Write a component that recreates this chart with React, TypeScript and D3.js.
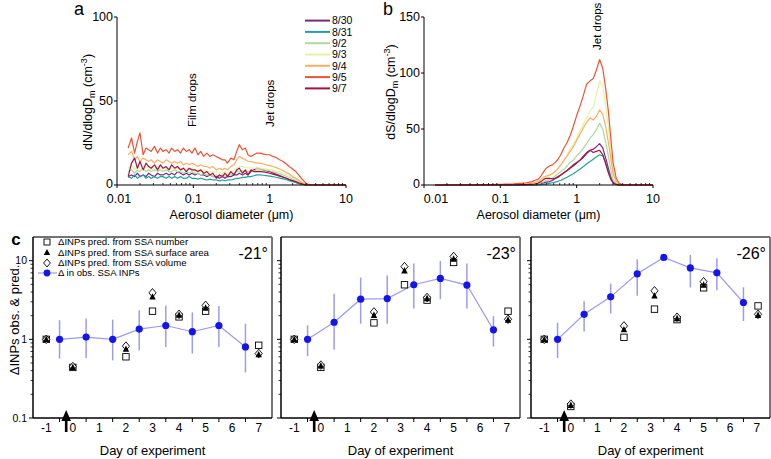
import React from 'react';
import * as d3 from 'd3';

const FONT = '"Liberation Sans", Arial, Helvetica, sans-serif';

// ---------- Panel a / b : size distributions ----------
const diam = [0.014,0.0155,0.017,0.0185,0.02,0.022,0.024,0.026,0.028,0.031,0.034,0.037,0.04,0.044,0.048,0.052,0.057,0.062,0.068,0.074,0.081,0.088,0.096,0.105,0.115,0.125,0.137,0.15,0.165,0.18,0.2,0.22,0.24,0.26,0.28,0.31,0.34,0.37,0.4,0.44,0.48,0.52,0.57,0.62,0.68,0.75,0.82,0.9,1.0,1.1,1.2,1.35,1.5,1.65,1.8,2.0,2.2,2.4,2.6,2.8,3.0,3.3,3.6,4.0,4.5,5,6,7,8,10];

const nA_0830 = [5,6,5,7,5,6,5,7,6,5,7,6,6,7,6,7,6,8,7,6,7,6,7,6,7,6,6,5,6,5,5,4,5,4,5,5,6,6,7,6,7,6,8,9,10,9.5,9,8.5,8,7.2,6.5,5.6,4.8,4,3.2,2.4,1.6,1,0.5,0.2,0,0,0,0,0,0,0,0,0,0];
const nA_0831 = [5,4,6,4,5,6,4,5,4,5,4,5,5,4,5,4,5,4,5,4,4,5,4,4,3.5,4,3.5,3,3.5,3,3,2.5,3,2.5,3,3,3.5,4,4,4.5,4.5,5,5,5.5,6,6,5.8,5.6,5.3,5,4.6,4.1,3.6,3.1,2.6,2,1.5,1,0.6,0.3,0.1,0,0,0,0,0,0,0,0,0];
const nA_0902 = [8,9,7,9,8,10,8,9,8,9,8,9,8,9,8,8,9,8,8,7,8,7,8,7,7,6,7,6,6,5,6,5,6,5,6,6,7,8,8,8.5,8,8,8.5,8.5,8.8,9,9,8.8,8.5,8,7.5,6.8,6,5.2,4.5,3.6,2.8,2,1.2,0.5,0.2,0,0,0,0,0,0,0,0,0];
const nA_0903 = [10,12,9,11,10,9,11,10,9,10,11,9,10,10,9,10,9,10,9,10,9,9,10,8,9,8,9,8,8,7,8,7,7,8,7,8,9,10,11,11,10.5,10,10,10,10,10,9.8,9.5,9.2,9,8.5,8,7,6.2,5.5,4.5,3.5,2.5,1.5,0.7,0.2,0,0,0,0,0,0,0,0,0];
const nA_0904 = [18,20,15,17,14,16,15,14,15,13,15,14,13,15,14,13,14,13,14,12,13,12,13,12,11,12,11,11,10,11,9,10,9,10,9,11,12,15,17,16,15,14,14,13.5,13,13,12.5,12,11.5,11,10.5,9.5,8.5,7.5,6.5,5,4,3,1.8,0.8,0.3,0,0,0,0,0,0,0,0,0];
const nA_0905 = [22,28,19,26,31,18,22,21,20,23,19,22,20,21,19,22,20,21,19,22,20,21,19,22,18,20,17,19,17,18,17,16,15,15,13,16,15,20,24,21,22,18,17,18,19,19,18.5,18,18,17,16.5,15,14,12.5,11,9.5,8,6,4,2.5,1,0.3,0,0,0,0,0,0,0,0];
const nA_0907 = [5,13,16,10,14,9,13,11,10,12,9,12,10,11,9,12,10,11,9,10,8,10,9,9,8,9,7,8,6,7,4,6,5,7,5,8,6,9,10,7,9,6,9,8,8,8,7.8,7.5,7,6.5,6,5.3,4.6,4,3.3,2.6,2,1.3,0.8,0.3,0.1,0,0,0,0,0,0,0,0,0];

const sB_0830 = [0,0,0,0,0,0,0,0,0,0,0,0,0,0,0,0,0,0,0,0,0,0,0,0.1,0.1,0.1,0.1,0.2,0.2,0.2,0.3,0.3,0.3,0.4,0.4,0.5,1,2,2.5,3,4,5.5,7,9,11,13,15.5,18,20,22,24,28,31,32,34,37,33,24,15,7,2.5,0.7,0.1,0,0,0,0,0,0,0];
const sB_0831 = [0,0,0,0,0,0,0,0,0,0,0,0,0,0,0,0,0,0,0,0,0,0,0,0,0,0,0,0,0.1,0.1,0.1,0.1,0.1,0.1,0.1,0.2,0.4,0.7,1,1.5,2,2.5,3.3,4.3,5.5,7,8.5,10,12,14,16,19,21,23,25,27,26,20,12,6,2,0.5,0.1,0,0,0,0,0,0,0];
const sB_0902 = [0,0,0,0,0,0,0,0,0,0,0,0,0,0,0,0,0,0,0,0,0,0,0.1,0.1,0.1,0.2,0.2,0.2,0.3,0.3,0.4,0.5,0.6,0.7,0.8,1,2,3,4,5,6,8,10,12,14,17,20,22,26,29,32,37,42,45,49,55,50,38,26,14,5,1.5,0.3,0,0,0,0,0,0,0];
const sB_0903 = [0,0,0,0,0,0,0,0,0,0,0,0,0,0,0,0,0,0,0,0,0,0.1,0.1,0.2,0.2,0.3,0.3,0.4,0.5,0.6,0.7,0.8,1,1.2,1.5,2,3,5,7,8,10,12,15,18,22,27,32,36,42,48,53,60,66,70,80,93,88,70,52,30,12,4,1,0.1,0,0,0,0,0,0];
const sB_0904 = [0,0,0,0,0,0,0,0,0,0,0,0,0,0,0,0,0,0,0,0,0,0.1,0.1,0.2,0.2,0.3,0.3,0.4,0.5,0.6,0.8,1,1.2,1.6,2.2,3,5,7,8,9,10,12,15,18,22,26,30,34,40,45,50,56,60,58,61,67,63,52,38,24,10,3,0.8,0.1,0,0,0,0,0,0];
const sB_0905 = [0,0,0,0,0,0,0,0,0,0,0.1,0.1,0.1,0.2,0.2,0.2,0.3,0.3,0.3,0.4,0.4,0.5,0.5,0.6,0.7,0.8,0.9,1,1.2,1.4,1.7,2,2.5,3,4,5,8,12,15,17,18,20,23,27,33,38,44,52,62,70,78,90,93,95,102,112,104,86,66,42,20,6,1.5,0.2,0,0,0,0,0,0];
const sB_0907 = [0,0,0,0,0,0,0,0,0,0,0,0,0,0,0,0,0,0,0,0,0,0,0,0.1,0.1,0.1,0.2,0.2,0.2,0.3,0.3,0.4,0.5,0.6,0.9,1.5,3,5,6,6,5.5,6,7.5,9,11,13,15,17,19.5,22,25,29,31,29,30,31,27,19,11,5,1.8,0.5,0.1,0,0,0,0,0,0,0];

const sizeLabels = ['8/30','8/31','9/2','9/3','9/4','9/5','9/7'];
const sizeColors = ['#762a86','#21a0a3','#a9dba0','#e4f3a0','#fdae61','#ef5232','#a8123f'];
const nASeries = [nA_0830, nA_0831, nA_0902, nA_0903, nA_0904, nA_0905, nA_0907];
const sBSeries = [sB_0830, sB_0831, sB_0902, sB_0903, sB_0904, sB_0905, sB_0907];

const xTickVals = [0.01, 0.1, 1, 10];
const xTickLabels = ['0.01', '0.1', '1', '10'];
const yTicksA = [0, 50, 100];
const yTicksB = [0, 50, 100, 150];

// ---------- Panel c : INPs ----------
const obsDays = [-0.5, 0.5, 1.5, 2.5, 3.5, 4.5, 5.5, 6.5];
const predDays21 = [-1, 0, 2, 3, 4, 5, 7];
const predDays23 = [-1, 0, 2, 3.15, 4, 5, 7.05];
const predDays26 = [-1, 0, 2, 3.15, 4, 5, 7.05];

const obs21 = [1.0, 1.07, 1.0, 1.35, 1.5, 1.25, 1.5, 0.8];
const obsLo21 = [0.57, 0.58, 0.54, 0.72, 0.8, 0.66, 0.8, 0.38];
const obsHi21 = [1.75, 1.84, 1.78, 2.35, 2.7, 2.2, 2.66, 1.58];
const num21 = [1.0, 0.44, 0.6, 2.28, 1.93, 2.28, 0.84];
const surf21 = [1.0, 0.44, 0.75, 3.47, 2.03, 2.5, 0.64];
const vol21 = [1.0, 0.45, 0.82, 3.9, 2.08, 2.7, 0.66];

const obs23 = [1.0, 1.65, 3.24, 3.3, 4.94, 5.95, 4.9, 1.32];
const obsLo23 = [0.61, 0.74, 1.58, 1.58, 2.46, 3.24, 2.46, 0.81];
const obsHi23 = [1.51, 3.8, 6.1, 6.5, 9.2, 9.9, 9.2, 1.97];
const num23 = [1.0, 0.44, 1.62, 4.94, 3.15, 9.5, 2.28];
const surf23 = [1.0, 0.46, 2.02, 7.45, 3.3, 10.5, 1.76];
const vol23 = [1.0, 0.47, 2.23, 8.4, 3.4, 11.3, 1.8];

const obs26 = [1.0, 2.08, 3.47, 6.8, 11.0, 8.1, 7.0, 2.94];
const obsLo26 = [0.58, 1.26, 2.13, 3.57, 11.0, 4.57, 4.2, 1.71];
const obsHi26 = [1.63, 3.06, 5.1, 10.4, 11.0, 11.8, 10.7, 4.6];
const num26 = [1.0, 0.14, 1.06, 2.42, 1.78, 4.52, 2.66];
const surf26 = [1.0, 0.145, 1.33, 3.57, 1.84, 4.9, 2.02];
const vol26 = [1.0, 0.15, 1.48, 4.14, 1.91, 5.4, 2.08];

const dayLabels = [-1, 0, 1, 2, 3, 4, 5, 6, 7];
const dayTicks = [-0.5, 0.5, 1.5, 2.5, 3.5, 4.5, 5.5, 6.5];
const tempLabels = ['-21°', '-23°', '-26°'];
const legendLabels = ['ΔINPs pred. from SSA number', 'ΔINPs pred. from SSA surface area', 'ΔINPs pred. from SSA volume', 'Δ in obs. SSA INPs'];

const BLUE = '#1414ee';
const LBLUE = '#9a9cf0';

function SizePanel({ left, right, yMax, yTicks, series, letter, letterX, yLabelX, yLabelY, yText, xZeroLabelX }: any) {
  const x = d3.scaleLog().domain([0.01, 10]).range([left, right]);
  const y = d3.scaleLinear().domain([0, yMax]).range([185, 17]);
  const line = d3.line<number>().x((_, i) => x(diam[i])).y((v) => y(v));
  const minor: number[] = [];
  [0.01, 0.1, 1].forEach((dec) => { for (let k = 2; k <= 9; k++) minor.push(dec * k); });
  return (
    <g>
      {series.map((s: number[], i: number) => (
        <path key={i} d={line(s) || ''} fill="none" stroke={sizeColors[i]} strokeWidth={1.2} strokeLinejoin="round" />
      ))}
      <line x1={left} x2={left} y1={17} y2={185} stroke="#000" strokeWidth={1} />
      <line x1={left} x2={right} y1={185} y2={185} stroke="#000" strokeWidth={1} />
      {yTicks.map((t: number) => (
        <g key={t}>
          <line x1={left - 3} x2={left} y1={y(t)} y2={y(t)} stroke="#000" />
          <text x={left - 4} y={y(t) - (t === 0 ? 1 : 0)} dy="0.34em" textAnchor="end" fontSize={12.5}>{t}</text>
        </g>
      ))}
      {xTickVals.map((t, i) => (
        <g key={t}>
          <line x1={x(t)} x2={x(t)} y1={185} y2={188} stroke="#000" />
          <text x={i === 0 && xZeroLabelX ? xZeroLabelX : x(t)} y={203} textAnchor="middle" fontSize={12.5}>{xTickLabels[i]}</text>
        </g>
      ))}
      {minor.map((m) => (
        <line key={m} x1={x(m)} x2={x(m)} y1={185} y2={183} stroke="#000" strokeWidth={0.8} />
      ))}
      <text x={(left + right) / 2} y={219} textAnchor="middle" fontSize={12.5}>Aerosol diameter (μm)</text>
      <text x={letterX} y={15} textAnchor="middle" fontSize={18}>{letter}</text>
      <text transform={`translate(${yLabelX},${yLabelY}) rotate(-90)`} textAnchor="middle" fontSize={12.5}>
        {yText}/dlogD<tspan fontSize={9} dy={3}>m</tspan><tspan dy={-3}> (cm</tspan><tspan fontSize={9} dy={-5}>-3</tspan><tspan dy={5}>)</tspan>
      </text>
    </g>
  );
}

function InpPanel({ left, right, obs, lo, hi, num, surf, vol, predDays, temp, first }: any) {
  const x = d3.scaleLinear().domain([-1.5, 7.5]).range([left, right]);
  const y = d3.scaleLog().domain([0.1, 20]).range([418, 237]);
  const minor: number[] = [];
  [0.1, 1, 10].forEach((dec) => { for (let k = 2; k <= 9; k++) { const v = dec * k; if (v < 20) minor.push(v); } });
  const line = d3.line<number>().x((_, i) => x(obsDays[i])).y((v) => y(v));
  const sq = 6.4, tri = 6.4;
  const arrowX = x(-0.25);
  return (
    <g>
      <line x1={left} x2={right} y1={237} y2={237} stroke="#444" strokeWidth={1.5} />
      <line x1={right} x2={right} y1={237} y2={418} stroke="#777" strokeWidth={2} />
      <line x1={left} x2={left} y1={237} y2={418} stroke="#000" strokeWidth={1.5} />
      <line x1={left} x2={right} y1={418} y2={418} stroke="#000" strokeWidth={1.5} />
      {[0.1, 1, 10].map((t) => (
        <g key={t}>
          <line x1={left - 4} x2={left} y1={y(t)} y2={y(t)} stroke="#000" strokeWidth={1} />
          {first ? <text x={left - 6} y={y(t)} dy="0.36em" textAnchor="end" fontSize={10.5}>{t}</text> : null}
        </g>
      ))}
      {minor.map((m) => (
        <line key={m} x1={left - 2.5} x2={left} y1={y(m)} y2={y(m)} stroke="#000" strokeWidth={0.8} />
      ))}
      {dayTicks.map((t) => (
        <line key={t} x1={x(t)} x2={x(t)} y1={418} y2={422} stroke="#000" strokeWidth={1} />
      ))}
      {dayLabels.map((d) => (
        <text key={d} x={x(d)} y={432} textAnchor="middle" fontSize={12}>{d}</text>
      ))}
      <text x={(left + right) / 2} y={455} textAnchor="middle" fontSize={13}>Day of experiment</text>
      <text x={right - 4} y={259} textAnchor="end" fontSize={16}>{temp}</text>
      {obs.map((_: number, i: number) => (
        <line key={i} x1={x(obsDays[i])} x2={x(obsDays[i])} y1={y(lo[i])} y2={y(hi[i])} stroke={LBLUE} strokeWidth={1.5} />
      ))}
      <path d={line(obs) || ''} fill="none" stroke={LBLUE} strokeWidth={1.2} />
      {obs.map((v: number, i: number) => (
        <circle key={i} cx={x(obsDays[i])} cy={y(v)} r={3.6} fill={BLUE} />
      ))}
      {num.map((v: number, i: number) => (
        <rect key={'s' + i} x={x(predDays[i]) - sq / 2} y={y(v) - sq / 2} width={sq} height={sq} fill="#fff" stroke="#000" strokeWidth={0.9} />
      ))}
      {vol.map((v: number, i: number) => {
        const cx = x(predDays[i]), cy = y(v);
        return <path key={'d' + i} d={`M${cx},${cy - 4.3}L${cx + 3.6},${cy}L${cx},${cy + 4.3}L${cx - 3.6},${cy}Z`} fill="#fff" stroke="#000" strokeWidth={0.9} />;
      })}
      {surf.map((v: number, i: number) => {
        const cx = x(predDays[i]), cy = y(v);
        return <path key={'t' + i} d={`M${cx},${cy - tri / 2 - 0.5}L${cx + tri / 2},${cy + tri / 2 - 0.5}L${cx - tri / 2},${cy + tri / 2 - 0.5}Z`} fill="#000" />;
      })}
      <line x1={arrowX} x2={arrowX} y1={432} y2={418} stroke="#000" strokeWidth={2.6} />
      <path d={`M${arrowX},${410}L${arrowX + 4.8},${421}L${arrowX - 4.8},${421}Z`} fill="#000" />
      {first ? (
        <g fontSize={9.6}>
          <rect x={47 - 3} y={242 - 3} width={6} height={6} fill="#fff" stroke="#000" strokeWidth={0.9} />
          <text x={58} y={242} dy="0.36em">{legendLabels[0]}</text>
          <path d={`M47,${252.5 - 3.4}L${50.2},${252.5 + 2.6}L${43.8},${252.5 + 2.6}Z`} fill="#000" />
          <text x={58} y={252.5} dy="0.36em">{legendLabels[1]}</text>
          <path d={`M47,${263 - 4}L50.4,263L47,${263 + 4}L43.6,263Z`} fill="#fff" stroke="#000" strokeWidth={0.9} />
          <text x={58} y={263} dy="0.36em">{legendLabels[2]}</text>
          <line x1={38} x2={57} y1={273} y2={273} stroke={LBLUE} strokeWidth={1.2} />
          <circle cx={47} cy={273} r={3.4} fill={BLUE} />
          <text x={58} y={273} dy="0.36em">{legendLabels[3]}</text>
        </g>
      ) : null}
    </g>
  );
}

export default function App() {
  return (
    <svg width={771} height={459} style={{ position: 'absolute', left: 0, top: 0, background: '#fff' }} fontFamily={FONT}>
      <rect x={0} y={0} width={771} height={459} fill="#fff" />
      <SizePanel left={117} right={346} yMax={100} yTicks={yTicksA} series={nASeries} letter="a" letterX={79} yLabelX={92} yLabelY={102} yText="dN" xZeroLabelX={119} />
      <SizePanel left={424} right={653} yMax={150} yTicks={yTicksB} series={sBSeries} letter="b" letterX={388} yLabelX={395} yLabelY={92} yText="dS" xZeroLabelX={436} />
      {sizeLabels.map((l, i) => (
        <g key={l}>
          <line x1={305} x2={330} y1={20.6 + i * 11.3} y2={20.6 + i * 11.3} stroke={sizeColors[i]} strokeWidth={2} />
          <text x={332} y={20.6 + i * 11.3} dy="0.36em" fontSize={10.5}>{l}</text>
        </g>
      ))}
      <text transform="translate(196,127) rotate(-90)" fontSize={11.5}>Film drops</text>
      <text transform="translate(274,127) rotate(-90)" fontSize={11.5}>Jet drops</text>
      <text transform="translate(601,50) rotate(-90)" fontSize={11.5}>Jet drops</text>

      <text x={16} y={245} textAnchor="middle" fontSize={17} fontWeight="bold">c</text>
      <text transform="translate(19,320) rotate(-90)" textAnchor="middle" fontSize={13}>ΔINPs obs. &amp; pred.</text>
      <InpPanel left={33} right={272} obs={obs21} lo={obsLo21} hi={obsHi21} num={num21} surf={surf21} vol={vol21} predDays={predDays21} temp={tempLabels[0]} first={true} />
      <InpPanel left={281} right={520} obs={obs23} lo={obsLo23} hi={obsHi23} num={num23} surf={surf23} vol={vol23} predDays={predDays23} temp={tempLabels[1]} first={false} />
      <InpPanel left={531} right={770} obs={obs26} lo={obsLo26} hi={obsHi26} num={num26} surf={surf26} vol={vol26} predDays={predDays26} temp={tempLabels[2]} first={false} />
    </svg>
  );
}
